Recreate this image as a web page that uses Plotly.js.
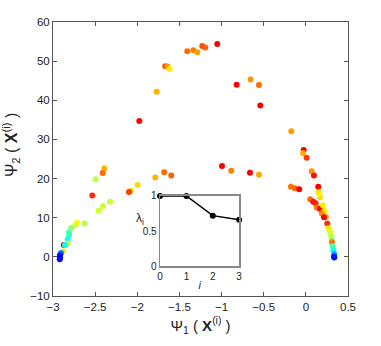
<!DOCTYPE html>
<html>
<head>
<meta charset="utf-8">
<script src="https://cdn.plot.ly/plotly-3.0.1.min.js"></script>
<style>
  html, body { margin: 0; padding: 0; background: #fff; }
  #chart { width: 381px; height: 346px; }
</style>
</head>
<body>
<div id="chart"></div>
<script>
// embedding coordinates (psi1, psi2) and the colour value of each point
const psi1 = [
  -2.872, -1.976, -1.770, -1.668, -1.640, -1.616, -1.407, -1.335, -1.288, -1.229, -1.193, -1.051,
  -0.821, -0.655, -0.556, -0.541, -0.173, -0.026, -0.034, 0.009, 0.068, 0.096,
  -0.995, -0.885, -0.663, -0.556, -1.786, -1.680, -1.597, -1.996, -2.075, -2.098,
  -2.391, -2.411, -2.494, -2.534, -2.324, -2.407, -2.458,
  -2.624, -2.712, -2.735, -2.786, -2.810, -2.810, -2.826, -2.826, -2.858, -2.878,
  -2.905, -2.917, -2.917, -2.920,
  -0.177, -0.130, -0.078, 0.147, 0.151, 0.167, 0.160, 0.052, 0.088, 0.116, 0.128,
  0.167, 0.203, 0.218, 0.190, 0.238, 0.215, 0.254, 0.270, 0.286, 0.298, 0.306,
  0.310, 0.318, 0.325, 0.337, 0.335, 0.337
];
const psi2 = [
  3.0, 34.7, 42.2, 48.7, 48.6, 48.0, 52.5, 52.8, 52.3, 53.85, 53.5, 54.4,
  43.95, 45.3, 43.9, 38.65, 32.1, 27.3, 26.5, 25.3, 21.85, 20.8,
  23.2, 22.0, 21.5, 21.0, 20.3, 21.6, 20.8, 18.35, 16.9, 16.55,
  22.6, 21.4, 19.8, 15.7, 14.1, 13.0, 11.8,
  8.55, 8.8, 8.1, 7.4, 6.2, 5.5, 4.5, 3.4, 3.0, 1.45,
  1.0, 0.4, -0.1, -0.6,
  17.9, 17.5, 17.25, 17.9, 16.5, 15.2, 16.0, 14.7, 14.1, 13.7, 12.6,
  12.3, 13.2, 11.7, 11.1, 10.2, 10.1, 8.55, 7.3, 6.4, 5.55, 4.5,
  3.7, 2.7, 1.7, 0.7, 0.1, -0.15
];
const colourValue = [
  0.875, 0.875, 0.70, 0.80, 0.72, 0.64, 0.77, 0.75, 0.72, 0.80, 0.78, 0.875,
  0.875, 0.73, 0.77, 0.875, 0.72, 0.875, 0.70, 0.82, 0.73, 0.86,
  0.875, 0.75, 0.875, 0.71, 0.70, 0.77, 0.78, 0.66, 0.66, 0.82,
  0.70, 0.77, 0.56, 0.83, 0.57, 0.57, 0.58,
  0.55, 0.62, 0.58, 0.52, 0.45, 0.43, 0.40, 0.57, 0.38, 0.64,
  0.25, 0.15, 0.13, 0.14,
  0.76, 0.77, 0.875, 0.875, 0.65, 0.66, 0.64, 0.77, 0.86, 0.84, 0.75,
  0.875, 0.64, 0.64, 0.74, 0.70, 0.875, 0.83, 0.64, 0.59, 0.57, 0.52,
  0.76, 0.45, 0.40, 0.30, 0.14, 0.15
];

// inset: eigenvalues
const eigIndex = [0, 1, 2, 3];
const eigValue = [1, 1, 0.72, 0.66];

const jet = [
  [0, '#00008f'], [0.125, '#0000ff'], [0.375, '#00ffff'],
  [0.625, '#ffff00'], [0.875, '#ff0000'], [1, '#800000']
];

const font = 'Liberation Sans, Arial, Helvetica, sans-serif';
const axisColor = '#555';

const points = {
  x: psi1,
  y: psi2,
  type: 'scatter',
  mode: 'markers',
  marker: {
    size: 6,
    color: colourValue,
    cmin: 0,
    cmax: 1,
    colorscale: jet,
    line: { width: 0 }
  },
  cliponaxis: false,
  hoverinfo: 'x+y'
};

const eigen = {
  x: eigIndex,
  y: eigValue,
  xaxis: 'x2',
  yaxis: 'y2',
  type: 'scatter',
  mode: 'lines+markers',
  line: { color: '#000', width: 1.5 },
  marker: { color: '#000', size: 6 },
  cliponaxis: false
};

const layout = {
  width: 381,
  height: 346,
  margin: { l: 53, r: 33, t: 22, b: 50 },
  paper_bgcolor: '#fff',
  plot_bgcolor: '#fff',
  showlegend: false,
  font: { family: font, size: 11.5, color: '#222' },
  xaxis: {
    range: [-3, 0.5],
    tickvals: [-3, -2.5, -2, -1.5, -1, -0.5, 0, 0.5],
    ticks: 'inside',
    ticklen: 4,
    tickcolor: axisColor,
    showline: true,
    linecolor: axisColor,
    mirror: 'ticks',
    showgrid: false,
    zeroline: false,
    title: { text: 'Ψ<sub>1</sub> ( <b>X</b><sup>(i)</sup> )', font: { size: 15, family: font, color: '#222' }, standoff: 8 }
  },
  yaxis: {
    range: [-10, 60],
    tickvals: [-10, 0, 10, 20, 30, 40, 50, 60],
    ticks: 'inside',
    ticklen: 4,
    tickcolor: axisColor,
    showline: true,
    linecolor: axisColor,
    mirror: 'ticks',
    showgrid: false,
    zeroline: false
  },
  xaxis2: {
    domain: [0.363, 0.631],
    anchor: 'y2',
    range: [0, 3],
    tickvals: [0, 1, 2, 3],
    ticks: '',
    showline: true,
    linecolor: '#888',
    linewidth: 1.5,
    mirror: true,
    showgrid: false,
    zeroline: false,
    tickfont: { size: 10 },
    title: { text: '<i>i</i>', font: { size: 11, family: font, color: '#222' }, standoff: 0 }
  },
  yaxis2: {
    domain: [0.109, 0.365],
    anchor: 'x2',
    range: [0, 1],
    tickvals: [0, 0.5, 1],
    ticks: '',
    showline: true,
    linecolor: '#888',
    linewidth: 1.5,
    mirror: true,
    showgrid: false,
    zeroline: false,
    tickfont: { size: 10 }
  },
  annotations: [
    {
      text: 'Ψ<sub>2</sub> ( <b>X</b><sup>(i)</sup> )',
      xref: 'paper', yref: 'paper',
      x: -0.14, y: 0.55,
      xanchor: 'center', yanchor: 'middle',
      textangle: -90,
      showarrow: false,
      font: { size: 16, family: font, color: '#222' }
    },
    {
      text: 'λ<sub>i</sub>',
      xref: 'paper', yref: 'paper',
      x: 0.295, y: 0.28,
      xanchor: 'center', yanchor: 'middle',
      showarrow: false,
      font: { size: 12, family: font, color: '#222' }
    }
  ]
};

Plotly.newPlot('chart', [points, eigen], layout, { displayModeBar: false, staticPlot: true });
</script>
</body>
</html>
